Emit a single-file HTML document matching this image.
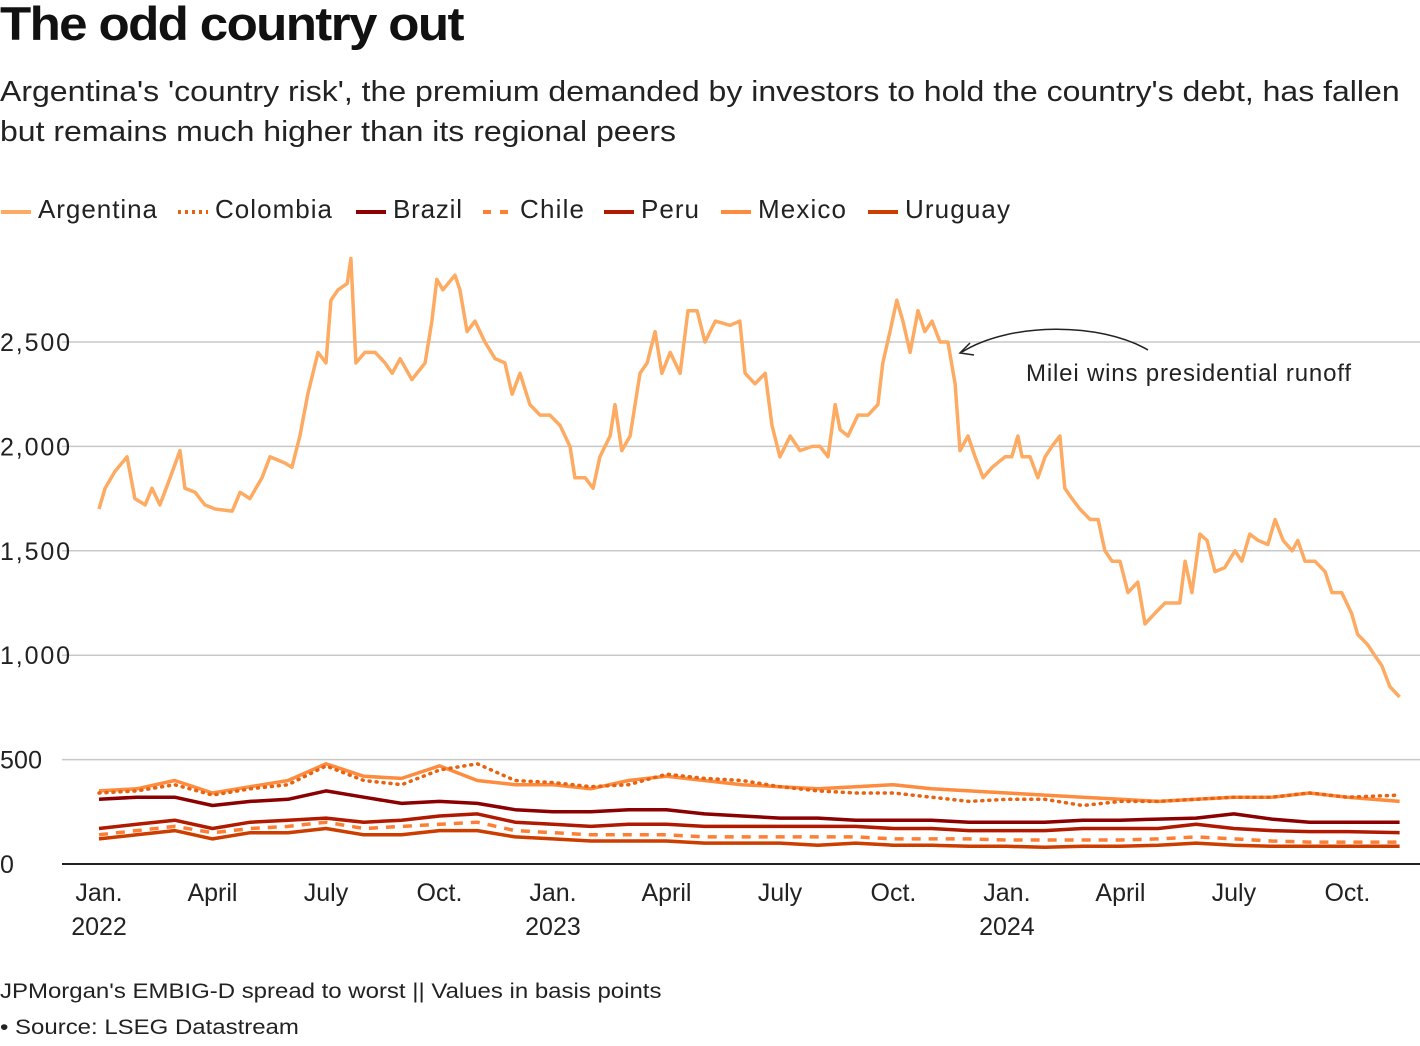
<!DOCTYPE html>
<html><head><meta charset="utf-8">
<style>
body{margin:0;background:#fff;font-family:"Liberation Sans",sans-serif;color:#111;}
#wrap{position:relative;width:1420px;height:1046px;overflow:hidden;}
.t{position:absolute;white-space:nowrap;transform-origin:0 0;}
</style></head>
<body><div id="wrap">
<div class="t" style="left:0;top:-4px;font-size:47px;font-weight:bold;letter-spacing:-1.5px;transform:scaleX(1.087);">The odd country out</div>
<div class="t" style="left:0;top:72px;font-size:28.5px;line-height:40px;color:#222;transform:scaleX(1.123);">Argentina's 'country risk', the premium demanded by investors to hold the country's debt, has fallen<br>but remains much higher than its regional peers</div>
<svg id="svg" width="1420" height="1046" style="position:absolute;left:0;top:0"></svg>
<div class="t" style="left:0;top:979px;font-size:21.5px;color:#222;transform:scaleX(1.115);">JPMorgan's EMBIG-D spread to worst || Values in basis points</div>
<div class="t" style="left:0;top:1015px;font-size:21.5px;color:#222;transform:scaleX(1.115);">• Source: LSEG Datastream</div>
</div>
<script>
const argT=[0,0.16,0.42,0.74,0.95,1.22,1.40,1.61,1.88,2.14,2.27,2.54,2.80,3.07,3.52,3.73,3.99,4.31,4.52,4.92,5.10,5.31,5.52,5.79,6.00,6.13,6.32,6.56,6.66,6.79,7.03,7.30,7.56,7.75,7.96,8.27,8.62,8.80,8.93,9.09,9.41,9.54,9.73,9.94,10.20,10.47,10.73,10.92,11.13,11.39,11.66,11.92,12.19,12.45,12.58,12.85,13.06,13.24,13.51,13.64,13.82,14.04,14.30,14.49,14.70,14.88,15.10,15.36,15.57,15.81,16.02,16.29,16.68,16.94,17.08,17.34,17.61,17.79,18.00,18.27,18.53,18.85,19.06,19.27,19.46,19.59,19.80,20.06,20.33,20.59,20.72,20.91,21.09,21.25,21.44,21.65,21.83,22.02,22.23,22.44,22.63,22.76,22.97,23.16,23.37,23.61,23.95,24.13,24.29,24.40,24.61,24.82,25.01,25.19,25.40,25.53,25.72,25.93,26.20,26.41,26.59,26.78,26.99,27.20,27.46,27.65,27.91,28.18,28.44,28.57,28.71,28.89,29.10,29.29,29.50,29.76,30.03,30.21,30.42,30.64,30.90,31.09,31.30,31.54,31.69,31.88,32.14,32.41,32.59,32.85,33.11,33.27,33.54,33.72,33.91,34.12,34.38];
const argV=[1700,1800,1880,1950,1750,1720,1800,1720,1850,1980,1800,1780,1720,1700,1690,1780,1750,1850,1950,1920,1900,2050,2250,2450,2400,2700,2750,2780,2900,2400,2450,2450,2400,2350,2420,2320,2400,2600,2800,2750,2820,2750,2550,2600,2500,2420,2400,2250,2350,2200,2150,2150,2100,2000,1850,1850,1800,1950,2050,2200,1980,2050,2350,2400,2550,2350,2450,2350,2650,2650,2500,2600,2580,2600,2350,2300,2350,2100,1950,2050,1980,2000,2000,1950,2200,2080,2050,2150,2150,2200,2400,2550,2700,2600,2450,2650,2550,2600,2500,2500,2300,1980,2050,1950,1850,1900,1950,1950,2050,1950,1950,1850,1950,2000,2050,1800,1750,1700,1650,1650,1500,1450,1450,1300,1350,1150,1200,1250,1250,1250,1450,1300,1580,1550,1400,1420,1500,1450,1580,1550,1530,1650,1550,1500,1550,1450,1450,1400,1300,1300,1200,1100,1050,1000,950,850,800];
const months=[0,1,2,3,4,5,6,7,8,9,10,11,12,13,14,15,16,17,18,19,20,21,22,23,24,25,26,27,28,29,30,31,32,33,34.38];
const mexV=[350,360,400,340,370,400,480,420,410,470,400,380,380,360,400,420,400,380,370,360,370,380,360,350,340,330,320,310,300,310,320,320,340,320,300];
const colV=[340,350,380,330,360,380,470,400,380,450,480,400,390,370,380,430,410,400,370,350,340,340,320,300,310,310,280,300,300,310,320,320,340,320,330];
const braV=[310,320,320,280,300,310,350,320,290,300,290,260,250,250,260,260,240,230,220,220,210,210,210,200,200,200,210,210,215,220,240,215,200,200,200];
const perV=[170,190,210,170,200,210,220,200,210,230,240,200,190,180,190,190,180,180,180,180,180,170,170,160,160,160,170,170,170,190,170,160,155,155,150];
const chiV=[140,160,180,150,170,180,200,170,180,190,200,160,150,140,140,140,130,130,130,130,130,120,120,120,115,115,115,115,120,130,120,110,105,105,105];
const uruV=[120,140,160,120,150,150,170,140,140,160,160,130,120,110,110,110,100,100,100,90,100,90,90,85,85,80,85,85,90,100,90,85,85,85,85];
const yTicks=[0,500,1000,1500,2000,2500];
const yTickLabels=["0","500","1,000","1,500","2,000","2,500"];
const xTicks=[0,3,6,9,12,15,18,21,24,27,30,33];
const xTickLabels=["Jan.","April","July","Oct.","Jan.","April","July","Oct.","Jan.","April","July","Oct."];
const yearTicks=[0,12,24];
const yearLabels=["2022","2023","2024"];
const NS="http://www.w3.org/2000/svg";
const svg=document.getElementById('svg');
const xs=m=>99+m*37.83;
const ys=v=>864-v*0.2088;
function mk(tag,attrs){const e=document.createElementNS(NS,tag);for(const k in attrs)e.setAttribute(k,attrs[k]);svg.appendChild(e);return e;}
yTicks.forEach((v,i)=>{
 if(v>0){const g=mk('line',{x1:62,x2:1420,y1:ys(v),y2:ys(v),stroke:'#c8c8c8','stroke-width':1.5});
 
 }
 const t=mk('text',{x:0,y:ys(v)+9,'font-size':25,fill:'#222','font-family':'Liberation Sans',textLength:v>=1000?70:(v>0?42:14)});
 t.textContent=yTickLabels[i];
 
 
});
xTicks.forEach((m,i)=>{
 const t=mk('text',{x:xs(m),y:901,'font-size':25,fill:'#222','text-anchor':'middle','font-family':'Liberation Sans'});
 t.textContent=xTickLabels[i];
 
 
});
yearTicks.forEach((m,i)=>{
 const t=mk('text',{x:xs(m),y:935,'font-size':25,fill:'#222','text-anchor':'middle','font-family':'Liberation Sans'});
 t.textContent=yearLabels[i];
 
 
});
function line(T,V,color,dash,name,w){
 const d=T.map((t,i)=>(i?'L':'M')+xs(t).toFixed(1)+','+ys(V[i]).toFixed(1)).join('');
 const p=mk('path',{d:d,fill:'none',stroke:color,'stroke-width':w||3.5,'stroke-linejoin':'round','stroke-linecap':dash==='1 6'?'round':'butt'});
 if(dash)p.setAttribute('stroke-dasharray',dash);
 
 
}
line(months,uruV,'#cc3d00',null,'uruguay-line');
line(months,chiV,'#fd7f35','9 8','chile-line');
line(months,perV,'#b01a00',null,'peru-line');
line(months,braV,'#8b0000',null,'brazil-line');
line(months,mexV,'#fd8c3f',null,'mexico-line');
line(months,colV,'#e8620f','1 6','colombia-line');
line(argT,argV,'#fdab63',null,'argentina-line');
const ax=mk('line',{x1:62,x2:1420,y1:864,y2:864,stroke:'#222','stroke-width':2});


const leg=[['Argentina','#fdab63',null,0,119],['Colombia','#e8620f','3 4',177,117],['Brazil','#8b0000',null,355,69],['Chile','#fd7f35','8 9',482,64],['Peru','#b01a00',null,603,58],['Mexico','#fd8c3f',null,720,88],['Uruguay','#cc3d00',null,867,105]];
leg.forEach(l=>{
 const s=mk('line',{x1:l[3]+1,x2:l[3]+31,y1:212,y2:212,stroke:l[1],'stroke-width':4});
 if(l[2])s.setAttribute('stroke-dasharray',l[2]);
 
 
 const t=mk('text',{x:l[3]+38,y:218,'font-size':26,fill:'#222','font-family':'Liberation Sans',textLength:l[4]});
 t.textContent=l[0];
 
 
});
const arr=mk('path',{d:'M1148,350 C1100,322 1010,322 962,352',fill:'none',stroke:'#222','stroke-width':1.5});


const ah=mk('path',{d:'M970,343 L960,353 L974,355',fill:'none',stroke:'#222','stroke-width':1.5});


const at=mk('text',{x:1026,y:381,'font-size':24,fill:'#222','font-family':'Liberation Sans',textLength:325});
at.textContent='Milei wins presidential runoff';


</script>
</body></html>
